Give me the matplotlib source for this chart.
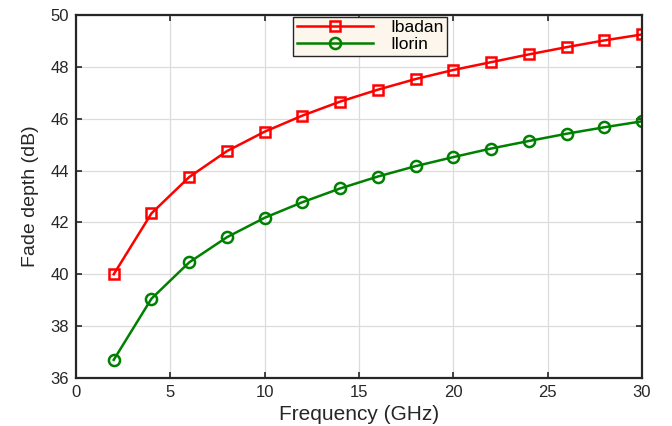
import numpy as np
import matplotlib.pyplot as plt

plt.rcParams['font.family'] = ['Liberation Sans', 'DejaVu Sans']

# Data
freq = [2, 4, 6, 8, 10, 12, 14, 16, 18, 20, 22, 24, 26, 28, 30]
ibadan = [40.0, 42.35, 43.75, 44.75, 45.5, 46.12, 46.66, 47.12, 47.53, 47.88,
          48.18, 48.48, 48.76, 49.02, 49.25]
ilorin = [36.7, 39.06, 40.46, 41.43, 42.18, 42.78, 43.31, 43.77, 44.17, 44.52,
          44.85, 45.14, 45.42, 45.67, 45.9]

xticks = [0, 5, 10, 15, 20, 25, 30]
yticks = [36, 38, 40, 42, 44, 46, 48, 50]

fig = plt.figure(figsize=(6.72, 4.26), dpi=100)
ax = fig.add_axes([76 / 672, 1 - 378 / 426, (642 - 76) / 672, (378 - 15) / 426])

ax.plot(freq, ibadan, '-s', color='red', lw=1.8, ms=6.5, mfc='none', mew=1.8,
        label='Ibadan')
ax.plot(freq, ilorin, '-o', color='green', lw=1.8, ms=8, mfc='none', mew=1.8,
        label='Ilorin')

ax.set_xlim(0, 30)
ax.set_ylim(36, 50)
ax.set_xticks(xticks)
ax.set_yticks(yticks)
ax.grid(True, color='#dcdcdc', lw=0.9)
ax.tick_params(direction='in', top=True, right=True, length=4.5, width=1.2,
               labelsize=12, colors='#262626', pad=5)
for s in ax.spines.values():
    s.set_linewidth(1.6)
    s.set_color('#262626')

ax.set_xlabel('Frequency (GHz)', fontsize=15, color='#262626', labelpad=4)
ax.set_ylabel('Fade depth (dB)', fontsize=14, color='#262626', labelpad=8)

leg = ax.legend(loc='upper center', bbox_to_anchor=(0.52, 0.995), fontsize=12.5,
                fancybox=False, edgecolor='#262626', framealpha=1,
                handlelength=4.4, borderpad=0.2, labelspacing=0.1,
                handletextpad=1.0, borderaxespad=0.0)
leg.get_frame().set_facecolor('#fdf6ec')
leg.get_frame().set_linewidth(1.0)

plt.savefig('out.png', dpi=100)
